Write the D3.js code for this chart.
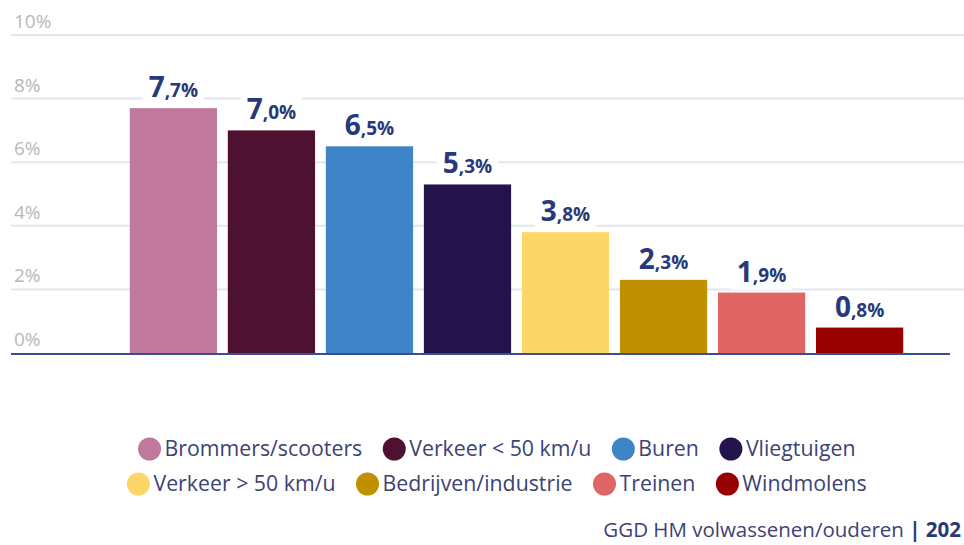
<!DOCTYPE html>
<meta charset="utf-8">
<style>
    body { margin: 0; background: #fff; }
    svg { font-family: "Open Sans", sans-serif; }
    .grid line { stroke: #e1e6f0; stroke-width: 2; }
    .tick-label { fill: #b8b8b8; font-size: 19px; }
    .value-big { fill: #27397a; font-weight: bold; font-size: 28px; }
    .value-small { fill: #27397a; font-weight: bold; font-size: 19px; }
    .legend text { fill: #3d4275; font-size: 21.3px; }
    .footer { fill: #3d4275; font-size: 20.5px; }
</style>
<body>
<script src="https://d3js.org/d3.v7.min.js"></script>
<script>
    var width = 964,
        height = 545;

    var categories = ["Brommers/scooters", "Verkeer < 50 km/u", "Buren", "Vliegtuigen",
                      "Verkeer > 50 km/u", "Bedrijven/industrie", "Treinen", "Windmolens"];
    var values = [7.7, 7.0, 6.5, 5.3, 3.8, 2.3, 1.9, 0.8];
    var colors = ["#c0799d", "#4e1230", "#3e84c6", "#22134b", "#fdd668", "#c09000", "#e06666", "#990000"];
    var yTicks = [0, 2, 4, 6, 8, 10];
    var legendRows = [[0, 1, 2, 3], [4, 5, 6, 7]];

    var svg = d3.select("body").append("svg")
        .attr("width", width)
        .attr("height", height);

    var y = d3.scaleLinear().domain([0, 10]).range([353, 35]);
    var x = d3.scaleBand().domain(categories).range([119, 914]).padding(0.11);

    // gridlines
    var grid = svg.append("g").attr("class", "grid");
    grid.selectAll("line")
        .data(yTicks.filter(function (d) { return d > 0; }))
        .enter().append("line")
        .attr("x1", 11).attr("x2", width)
        .attr("y1", function (d) { return y(d); })
        .attr("y2", function (d) { return y(d); });

    svg.selectAll(".tick-label")
        .data(yTicks)
        .enter().append("text")
        .attr("class", "tick-label")
        .attr("x", 14)
        .attr("y", function (d) { return y(d) - 7; })
        .text(function (d) { return d + "%"; });

    // bars
    svg.selectAll(".bar")
        .data(values)
        .enter().append("rect")
        .attr("class", "bar")
        .attr("x", function (d, i) { return x(categories[i]); })
        .attr("width", x.bandwidth())
        .attr("y", function (d) { return y(d); })
        .attr("height", function (d) { return y(0) - y(d); })
        .attr("fill", function (d, i) { return colors[i]; });

    // baseline
    svg.append("line")
        .attr("x1", 11).attr("x2", 950)
        .attr("y1", y(0) + 1).attr("y2", y(0) + 1)
        .attr("stroke", "#3a4f8f").attr("stroke-width", 2);

    // value labels
    var labels = svg.selectAll(".value")
        .data(values)
        .enter().append("g")
        .attr("class", "value");

    labels.append("rect")
        .attr("fill", "#fff");

    var txt = labels.append("text")
        .attr("text-anchor", "middle")
        .attr("x", function (d, i) { return x(categories[i]) + x.bandwidth() / 2; })
        .attr("y", function (d) { return y(d) - 11; });
    txt.append("tspan").attr("class", "value-big")
        .text(function (d) { return d.toFixed(1).split(".")[0]; });
    txt.append("tspan").attr("class", "value-small")
        .text(function (d) { return "," + d.toFixed(1).split(".")[1] + "%"; });

    labels.each(function () {
        var g = d3.select(this);
        var b = g.select("text").node().getBBox();
        g.select("rect")
            .attr("x", b.x - 6).attr("y", b.y + 4)
            .attr("width", b.width + 12).attr("height", b.height - 4);
    });

    // legend
    var legend = svg.append("g").attr("class", "legend");
    var rowY = [449, 484];
    legendRows.forEach(function (row, r) {
        var row_g = legend.append("g");
        var cx = 0;
        row.forEach(function (idx) {
            var item = row_g.append("g").attr("transform", "translate(" + cx + ",0)");
            item.append("circle")
                .attr("cx", 11).attr("cy", 0).attr("r", 11.5)
                .attr("fill", colors[idx]);
            var t = item.append("text")
                .attr("x", 26).attr("y", 7)
                .text(categories[idx]);
            cx += 26 + t.node().getComputedTextLength() + 21;
        });
        var total = cx - 21;
        row_g.attr("transform", "translate(" + (497 - total / 2) + "," + rowY[r] + ")");
    });

    // footer
    var footer = svg.append("text")
        .attr("class", "footer")
        .attr("x", 961).attr("y", 537)
        .attr("text-anchor", "end");
    footer.append("tspan").text("GGD HM volwassenen/ouderen ");
    footer.append("tspan").attr("font-weight", "bold").attr("fill", "#27397a").text("| 202");
</script>
</body>
